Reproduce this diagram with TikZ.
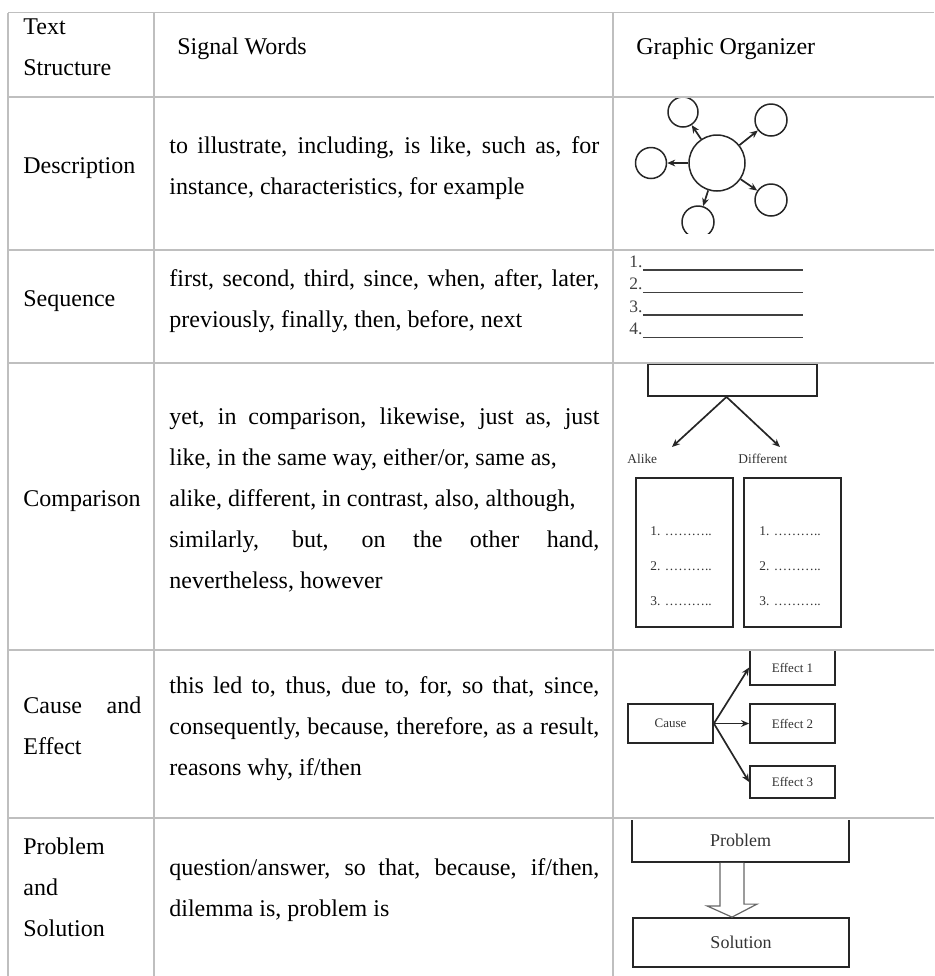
\documentclass[tikz,border=0pt]{standalone}
\usepackage{fontspec}
\setmainfont{Liberation Serif}
\usetikzlibrary{arrows.meta,positioning}

\tikzset{
	tableline/.style={draw=black!25, line width=0.8pt},
	cell/.style={anchor=base west, inner sep=0pt, font=\fontsize{12}{20.5}\selectfont},
	organ/.style={draw=black!85, line width=0.8pt},
	orgbox/.style={organ, rectangle, inner sep=0pt, line width=0.9pt, fill=white,
		font=\fontsize{6.5}{8}\selectfont, text=black!80},
	orglabel/.style={anchor=base west, inner sep=0pt, font=\fontsize{6.7}{8}\selectfont, text=black!80},
	bubble/.style={organ, circle, inner sep=0pt, line width=0.75pt},
	tip/.style={-{Stealth[length=4pt,width=3.4pt]}, line width=0.85pt, black!85},
	blockarrow/.style={draw=black!60, line width=0.6pt, fill=white},
}
\newcommand\signal[2]{\parbox[t]{#1}{\tolerance=10000\hyphenpenalty=10000 #2}}

\begin{document}
\begin{tikzpicture}[x=0.5pt, y=-0.5pt]
	\useasboundingbox (0,0) rectangle (934,976);

	\node[cell] (hstruct) at (23,34) {\signal{59pt}{Text\newline Structure}};
	\node[cell] (hsignal) at (177,54.5) {Signal Words};
	\node[cell] (horgan) at (636,54.5) {Graphic Organizer};

	\node[cell] (tdesc) at (23,173.5) {\signal{59pt}{Description}};
	\node[cell] (wdesc) at (169,153) {\signal{215pt}{to illustrate, including, is like, such as, for\linebreak
		instance, characteristics, for example}};

	\node[cell] (tseq) at (23,306.5) {\signal{59pt}{Sequence}};
	\node[cell] (wseq) at (169,286) {\signal{215pt}{first, second, third, since, when, after, later,\linebreak
		previously, finally, then, before, next}};

	\node[cell] (tcomp) at (23,506.5) {\signal{59pt}{Comparison}};
	\node[cell] (wcomp) at (169,424.5) {\signal{215pt}{yet, in comparison, likewise, just as, just\linebreak
		like, in the same way, either/or, same as,\newline
		alike, different, in contrast, also, although,\newline
		similarly, but, on the other hand,\linebreak
		nevertheless, however}};

	\node[cell] (tcause) at (23,713.5) {\signal{59pt}{Cause and\linebreak Effect}};
	\node[cell] (wcause) at (169,693) {\signal{215pt}{this led to, thus, due to, for, so that, since,\linebreak
		consequently, because, therefore, as a result,\linebreak
		reasons why, if/then}};

	\node[cell] (tprob) at (23,854.5) {\signal{59pt}{Problem\newline and\newline Solution}};
	\node[cell] (wprob) at (169,875) {\signal{215pt}{question/answer, so that, because, if/then,\linebreak
		dilemma is, problem is}};

	\begin{scope}
		\clip (615,98) rectangle (810,233);
		\node[bubble, minimum size=28pt] (hub) at (717,163) {};
		\node[bubble, minimum size=15pt] (d1) at (683,112) {};
		\node[bubble, minimum size=16pt] (d2) at (771,120) {};
		\node[bubble, minimum size=15.5pt] (d3) at (651,163) {};
		\node[bubble, minimum size=16pt] (d4) at (771,200) {};
		\node[bubble, minimum size=16pt] (d5) at (698,222) {};
		\foreach \d in {d1,d2,d3,d4,d5}
			\draw[tip] (hub) -- (\d);
	\end{scope}

	\foreach \n/\y in {1/267,2/289.5,3/312,4/334.5} {
		\node[anchor=base west, inner sep=0pt, font=\fontsize{8.75}{10}\selectfont, text=black!75] (s\n) at (629,\y) {\n.};
		\draw[black!75, line width=0.7pt] ([yshift=-1.5pt]s\n.base east) -- (803,{\y+3});
	}

	\node[orgbox, minimum width=84.5pt, minimum height=16pt] (topic) at (732.5,380) {};
	\coordinate (alikeend) at (672,447);
	\coordinate (diffend) at (780,447);
	\draw[tip] ([xshift=-3pt]topic.south) -- (alikeend);
	\draw[tip] ([xshift=-3pt]topic.south) -- (diffend);
	\node[orglabel] (alike) at (627,463) {Alike};
	\node[orglabel] (diff) at (738,463) {Different};
	\node[orgbox, minimum width=48.5pt, minimum height=74.5pt] (alikebox) at (684.5,552.5) {};
	\node[orgbox, minimum width=48.5pt, minimum height=74.5pt] (diffbox) at (792.5,552.5) {};
	\foreach \k/\y in {1/535,2/570,3/605} {
		\node[orglabel] (alike\k) at (650,\y) {\k. ………..};
		\node[orglabel] (diff\k) at (759,\y) {\k. ………..};
	}

	\begin{scope}
		\clip (615,651) rectangle (860,817);
		\node[orgbox, minimum width=42.5pt, minimum height=19.5pt] (cause) at (670.5,723.5) {Cause};
		\node[orgbox, minimum width=42.5pt, minimum height=17.5pt] (eff1) at (792.5,667.5) {Effect 1};
		\node[orgbox, minimum width=42.5pt, minimum height=19.5pt] (eff2) at (792.5,723.5) {Effect 2};
		\node[orgbox, minimum width=42.5pt, minimum height=16pt] (eff3) at (792.5,782) {Effect 3};
		\foreach \e in {eff1,eff2,eff3}
			\draw[tip] (cause.east) -- (\e.west);
	\end{scope}

	\begin{scope}
		\clip (615,820) rectangle (860,976);
		\node[orgbox, minimum width=108.5pt, minimum height=21.5pt, font=\fontsize{9}{10}\selectfont] (prob) at (740.5,840.5) {Problem};
		\node[orgbox, minimum width=108pt, minimum height=24.5pt, font=\fontsize{9}{10}\selectfont] (sol) at (741,942.5) {Solution};
		\draw[blockarrow] ([xshift=-10.25pt]prob.south) -- ++(0,43) -- ++(-13,0) -- ([xshift=-4.5pt]sol.north)
			-- ++(25,-13) -- ++(-13,0) -- ([xshift=1.75pt]prob.south);
	\end{scope}

	\foreach \y in {12.5,97,250,363,650,818}
		\draw[tableline] (8,\y) -- (934,\y);
	\foreach \x in {8,154,613}
		\draw[tableline] (\x,12.5) -- (\x,976);
\end{tikzpicture}
\end{document}
